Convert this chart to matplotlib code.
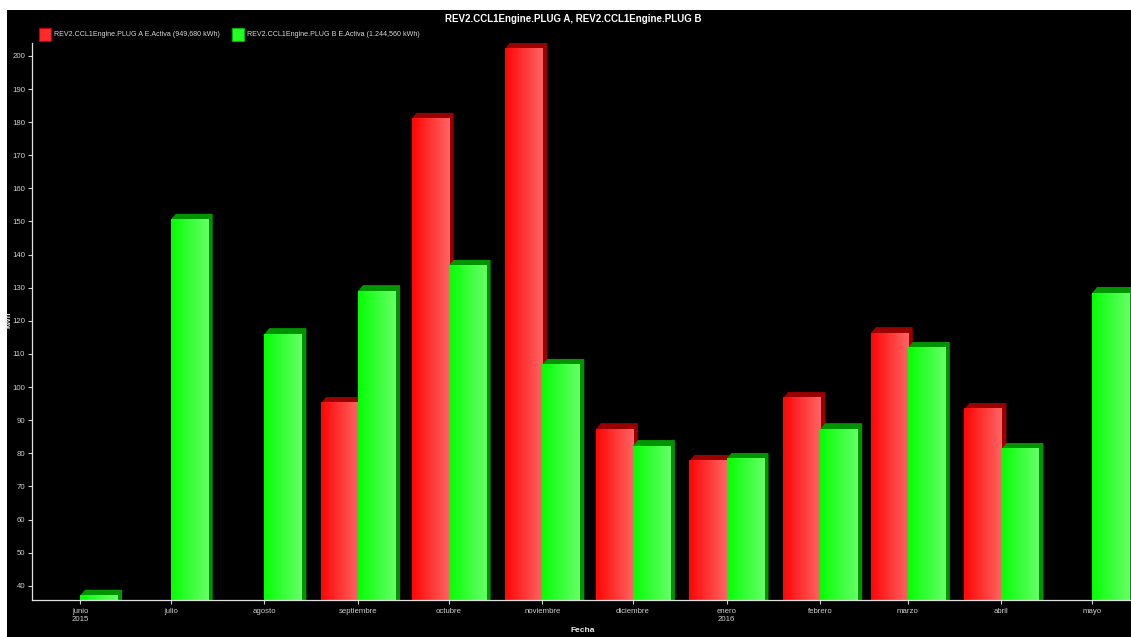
import numpy as np
import matplotlib
matplotlib.use('Agg')
import matplotlib.pyplot as plt
import matplotlib.dates as mdates
from matplotlib.patches import Rectangle, Polygon
from matplotlib.colors import to_rgb
from datetime import datetime

# monthly energy, kWh
months = ['2015-06-01', '2015-07-01', '2015-08-01', '2015-09-01', '2015-10-01', '2015-11-01',
          '2015-12-01', '2016-01-01', '2016-02-01', '2016-03-01', '2016-04-01', '2016-05-01']
month_labels = ['junio\n2015', 'julio', 'agosto', 'septiembre', 'octubre', 'noviembre',
                'diciembre', 'enero\n2016', 'febrero', 'marzo', 'abril', 'mayo']
plug_a = [None, None, None, 95.2, 181.0, 202.3, 87.3, 77.7, 96.7, 116.3, 93.4, None]
plug_b = [37.0, 150.5, 116.0, 129.0, 136.6, 106.7, 82.2, 78.3, 87.3, 111.8, 81.3, 128.4]
label_a = 'REV2.CCL1Engine.PLUG A E.Activa (949,680 kWh)'
label_b = 'REV2.CCL1Engine.PLUG B E.Activa (1.244,560 kWh)'
title = 'REV2.CCL1Engine.PLUG A, REV2.CCL1Engine.PLUG B'

plt.rcParams['font.family'] = ['Liberation Sans', 'DejaVu Sans']

W, H = 1131, 637
fig = plt.figure(figsize=(W / 100, H / 100), dpi=100, facecolor='white')
fig.add_artist(Rectangle((7 / W, 0), 1, (H - 10) / H, transform=fig.transFigure,
                         facecolor='black', edgecolor='none', zorder=-1))

ax = fig.add_axes([32 / W, 37 / H, (W - 32) / W, 557 / H])
ax.set_facecolor('black')

x = mdates.date2num([datetime.strptime(m, '%Y-%m-%d') for m in months])
bar_w = 12.25          # days
dx, dy = 1.66, 1.8     # fake 3d depth (days, kWh)
ymin, ymax = 35.7, 203.9


def draw_bar(x0, h, left, right, dark):
    depth = Polygon([(x0, h), (x0 + dx, h + dy), (x0 + bar_w + dx, h + dy),
                     (x0 + bar_w + dx, 0), (x0 + bar_w, 0), (x0 + bar_w, h)],
                    closed=True, facecolor=dark, edgecolor='none', zorder=2)
    ax.add_patch(depth)
    t = np.linspace(0, 1, 64)[None, :, None]
    grad = np.array(to_rgb(left))[None, None, :] * (1 - t) + np.array(to_rgb(right))[None, None, :] * t
    ax.imshow(grad, extent=[x0, x0 + bar_w, 0, h], aspect='auto',
              interpolation='bilinear', zorder=2)


for xi, a, b in zip(x, plug_a, plug_b):
    if a is not None:
        draw_bar(xi - bar_w, a, '#ff0505', '#ff6464', '#9a0000')
    if b is not None:
        draw_bar(xi, b, '#05ff05', '#66ff66', '#009400')

ax.set_xlim(x[0] - 15.9, x[-1] + 12.9)
ax.set_ylim(ymin, ymax)

ax.set_xticks(x)
ax.set_xticklabels(month_labels)
ax.set_yticks(np.arange(40, 201, 10))
ax.tick_params(colors='#d0d0d0', labelsize=5.6, length=3, width=0.8)
ax.tick_params(axis='x', pad=3)
ax.tick_params(axis='y', pad=2)
for s in ['top', 'right']:
    ax.spines[s].set_visible(False)
for s in ['left', 'bottom']:
    ax.spines[s].set_color('#e0e0e0')
    ax.spines[s].set_linewidth(0.9)

fig.text(583 / W, 1 - 631 / H, 'Fecha', ha='center', va='center', color='#e8e8e8',
         fontsize=6, fontweight='bold')
fig.text(9 / W, 1 - 320 / H, 'kWh', ha='center', va='center', rotation=90,
         color='#e8e8e8', fontsize=5.6, fontweight='bold')

fig.text(573 / W, 1 - 19 / H, title, ha='center', va='center', color='white',
         fontsize=7, fontweight='bold')

# legend, drawn by hand
for sx, tx, col, edge, lab in [(39, 54, '#ff2a2a', '#c00000', label_a),
                               (232, 247, '#22ff22', '#00b000', label_b)]:
    fig.add_artist(Rectangle((sx / W, 1 - 41 / H), 12 / W, 13 / H, transform=fig.transFigure,
                             facecolor=col, edgecolor=edge, linewidth=0.8))
    fig.text(tx / W, 1 - 34.5 / H, lab, ha='left', va='center', color='#d8d8d8', fontsize=5.1)

fig.savefig('out.png', dpi=100, facecolor=fig.get_facecolor())
